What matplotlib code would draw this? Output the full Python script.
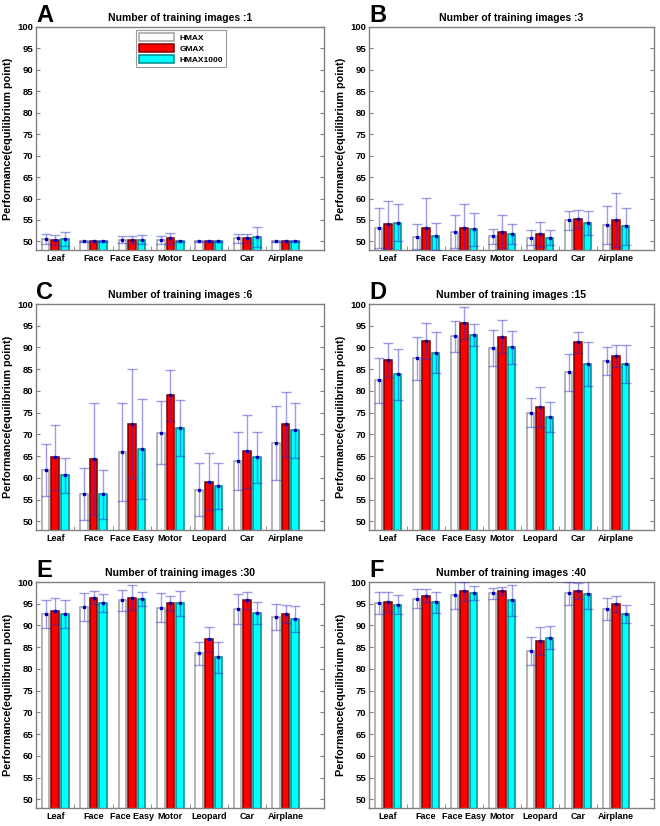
import numpy as np
import matplotlib
matplotlib.use("Agg")
import matplotlib.pyplot as plt

plt.rcParams['font.family'] = ['Liberation Sans', 'DejaVu Sans']
plt.rcParams['font.weight'] = 'bold'

categories = ["Leaf", "Face", "Face Easy", "Motor", "Leopard", "Car", "Airplane"]
series_names = ["HMAX", "GMAX", "HMAX1000"]
n_train = [1, 3, 6, 15, 30, 40]
panel_letters = ["A", "B", "C", "D", "E", "F"]

# mean performance, one row per panel (A..F)
hmax = [
    [50.5, 50.0, 50.4, 50.4, 50.0, 50.7, 50.0],
    [53.2, 51.1, 52.3, 51.2, 50.9, 54.9, 53.8],
    [61.8, 56.2, 65.9, 70.4, 57.3, 63.9, 68.1],
    [82.4, 87.5, 92.6, 89.9, 75.0, 84.3, 86.8],
    [92.7, 94.3, 95.8, 94.1, 83.6, 93.8, 91.9],
    [95.1, 96.2, 97.1, 97.4, 84.2, 97.4, 93.8],
]
gmax = [
    [50.4, 50.0, 50.4, 50.7, 50.0, 50.7, 50.0],
    [54.0, 53.2, 53.1, 52.3, 51.7, 55.2, 54.9],
    [64.7, 64.3, 72.5, 79.0, 59.1, 66.1, 72.3],
    [87.1, 91.5, 95.6, 92.5, 76.3, 91.2, 88.0],
    [93.3, 96.4, 96.4, 95.1, 86.8, 95.8, 92.7],
    [95.4, 96.8, 97.9, 97.9, 86.5, 97.9, 95.0],
]
hmax1000 = [
    [50.5, 50.0, 50.4, 50.0, 50.0, 51.0, 50.0],
    [54.4, 51.2, 52.8, 51.7, 50.9, 54.2, 53.5],
    [60.6, 56.2, 66.7, 71.5, 58.1, 64.7, 70.9],
    [83.8, 88.8, 92.9, 90.0, 74.0, 86.2, 86.2],
    [92.6, 95.2, 96.0, 95.1, 82.7, 92.8, 91.4],
    [94.8, 95.3, 97.4, 95.8, 87.2, 97.2, 92.6],
]

# error bar half-lengths
hmax_err = [
    [1.2, 0.1, 0.8, 0.9, 0.1, 1.0, 0.1],
    [4.7, 2.9, 3.8, 1.8, 1.7, 2.3, 4.4],
    [6.0, 6.0, 11.3, 7.2, 6.1, 6.7, 8.5],
    [5.2, 4.9, 3.6, 4.2, 3.4, 4.3, 3.2],
    [3.2, 3.2, 2.4, 3.3, 2.7, 3.4, 3.0],
    [2.5, 2.2, 3.3, 1.2, 3.2, 2.6, 2.5],
]
gmax_err = [
    [1.2, 0.1, 0.8, 1.2, 0.1, 1.0, 0.1],
    [5.5, 7.0, 5.7, 3.8, 2.9, 2.1, 6.3],
    [7.5, 12.9, 12.5, 5.9, 6.6, 8.4, 7.5],
    [3.9, 4.2, 3.7, 3.8, 4.5, 2.4, 2.5],
    [3.0, 1.5, 2.9, 1.7, 2.8, 2.0, 2.1],
    [2.2, 1.5, 2.2, 0.9, 3.2, 1.9, 1.8],
]
hmax1000_err = [
    [1.6, 0.1, 1.0, 0.1, 0.1, 2.4, 0.1],
    [4.4, 3.2, 3.9, 2.3, 1.7, 2.8, 4.4],
    [4.0, 5.6, 11.5, 6.4, 5.3, 5.8, 6.3],
    [5.9, 4.7, 2.6, 3.8, 3.5, 5.0, 4.3],
    [3.2, 2.0, 1.6, 2.9, 3.6, 2.5, 3.0],
    [2.1, 2.4, 1.6, 3.6, 2.6, 3.3, 2.1],
]

face_colors = ["white", "#ff0000", "#00ffff"]
edge_colors = ["#a0a0a0", "#7a0000", "#008a8a"]
offsets = [-0.25, 0.0, 0.25]
bar_w = 0.2

fig = plt.figure(figsize=(6.6, 8.26), dpi=100)
W, H = 660.0, 826.0
cols = [(36, 288), (369, 285)]
rows = [(27, 250), (304, 530), (582, 808)]

x = np.arange(1, len(categories) + 1)

for p in range(6):
    r, c = divmod(p, 2)
    left, width = cols[c]
    top, bot = rows[r]
    ax = fig.add_axes([left / W, 1 - bot / H, width / W, (bot - top) / H])

    data = [hmax[p], gmax[p], hmax1000[p]]
    errs = [hmax_err[p], gmax_err[p], hmax1000_err[p]]
    handles = []
    for s in range(3):
        b = ax.bar(x + offsets[s], data[s], bar_w, color=face_colors[s],
                   edgecolor=edge_colors[s], linewidth=1.1, label=series_names[s], zorder=2)
        handles.append(b)
        ax.errorbar(x + offsets[s], data[s], yerr=errs[s], fmt='none',
                    ecolor='#2828c8', alpha=0.45, elinewidth=1.0, capsize=3.5,
                    capthick=1.0, zorder=3)
        ax.plot(x + offsets[s], data[s], 's', color='#0000c0', markersize=1.8,
                zorder=4)

    ax.set_xlim(0.5, 8.0)
    ax.set_ylim(48, 100)
    ax.set_yticks(np.arange(50, 101, 5))
    ax.set_xticks(x)
    ax.set_xticklabels(categories, fontsize=6.5, fontweight='bold')
    ax.set_xticks(np.arange(1.5, 7.0, 1.0), minor=True)
    ax.tick_params(axis='x', which='major', length=0, pad=3)
    ax.tick_params(axis='x', which='minor', direction='in', length=3,
                   color='#808080', bottom=True, top=False)
    ax.tick_params(axis='y', direction='in', length=3, color='#808080',
                   right=True, labelsize=6.8, pad=2)
    for lab in ax.get_yticklabels():
        lab.set_fontweight('bold')
    for sp in ax.spines.values():
        sp.set_color('#808080')
        sp.set_linewidth(1.0)

    ax.set_ylabel("Performance(equilibrium point)", fontsize=7.8,
                  fontweight='bold', labelpad=3)
    ax.set_title("Number of training images :%d" % n_train[p], fontsize=7.5,
                 fontweight='bold', pad=4)
    ax.text(0.0, 1.0 + 23.0 / (bot - top), panel_letters[p],
            transform=ax.transAxes, fontsize=17, fontweight='bold',
            ha='left', va='top')

    if p == 0:
        leg = ax.legend(handles=handles, loc='upper left',
                        bbox_to_anchor=(0.348, 0.985), borderaxespad=0,
                        fontsize=6, frameon=True, fancybox=False,
                        handlelength=4.2, handleheight=1.1,
                        borderpad=0.35, labelspacing=0.25, handletextpad=0.6)
        leg.get_frame().set_edgecolor('#808080')
        leg.get_frame().set_linewidth(0.8)
        for t in leg.get_texts():
            t.set_fontweight('bold')

fig.savefig("out.png", dpi=100)
